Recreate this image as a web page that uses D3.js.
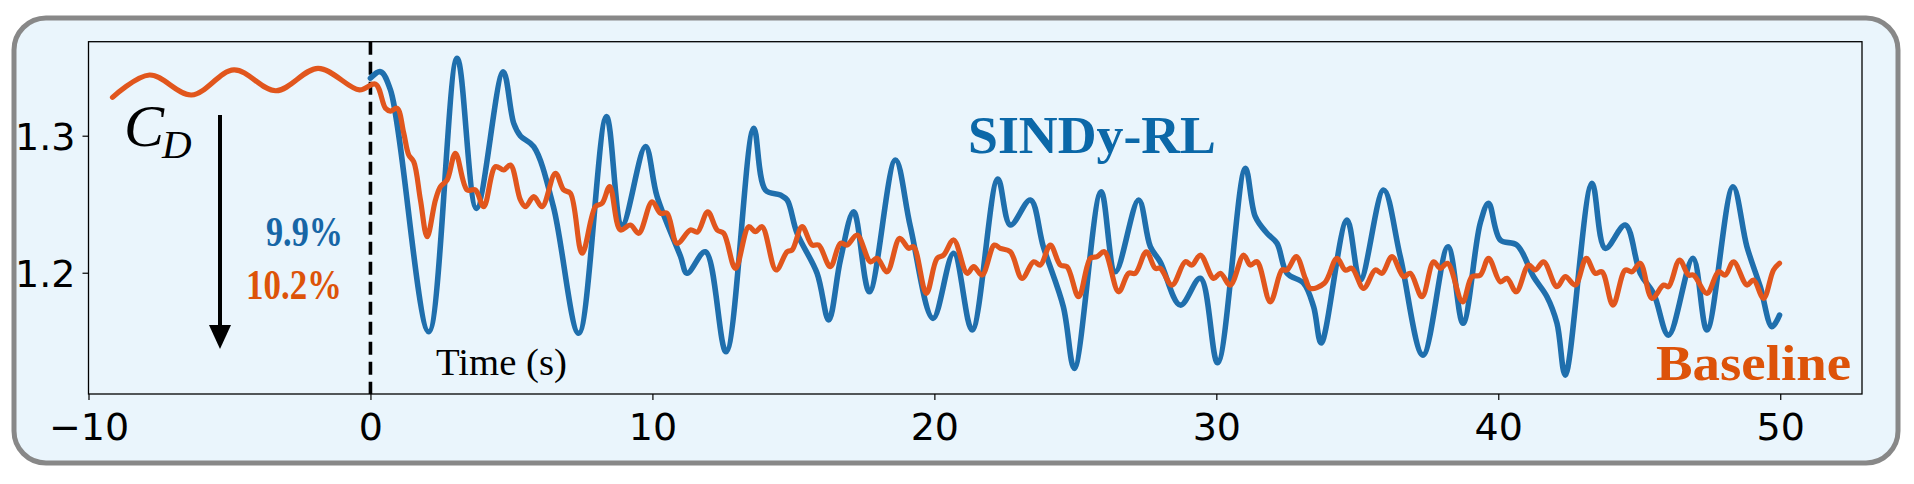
<!DOCTYPE html>
<html><head><meta charset="utf-8">
<script src="https://cdn.jsdelivr.net/npm/d3@7"></script>
<style>html,body{margin:0;padding:0;background:#fff;}svg{display:block;}</style>
</head><body>
<svg id="chart" width="1914" height="484"></svg>
<script>
// ---- data ----
const sindyT = [0,0.355,0.709,2.067,3.074,3.759,4.706,5.082,5.319,5.791,6.489,7.387,8.369,8.926,9.752,10.167,10.993,11.23,11.879,12.613,13.592,14.007,14.539,14.777,15.131,15.84,16.252,16.667,17.138,17.695,18.617,19.149,19.954,20.684,21.337,22.25,22.695,23.404,23.865,24.574,24.965,25.911,26.418,27.245,27.66,28.014,28.723,29.433,30.046,31.028,31.383,31.798,32.152,32.507,33.095,33.45,33.72,34.635,35.106,35.933,36.525,37.33,38.217,38.748,39.362,39.656,40.071,40.663,41.252,41.727,42.082,42.376,43.323,43.794,44.504,45.035,45.507,46.039,46.904,47.401,48.323,48.819,49.291,49.706,49.975];
const sindyCd = [1.342,1.3467,1.3334,1.1569,1.3565,1.247,1.3467,1.309,1.2998,1.292,1.2482,1.1558,1.3139,1.2348,1.292,1.2555,1.2122,1.1996,1.2153,1.1423,1.3054,1.2604,1.2567,1.2531,1.2288,1.1996,1.1655,1.2093,1.2445,1.1861,1.2823,1.2336,1.1667,1.2142,1.1582,1.2684,1.2348,1.2531,1.219,1.1752,1.1302,1.2591,1.2007,1.2531,1.219,1.2078,1.1764,1.1959,1.1343,1.2762,1.2409,1.2288,1.2215,1.1996,1.1923,1.1752,1.1487,1.2385,1.1947,1.2604,1.2117,1.1399,1.219,1.1631,1.2363,1.2507,1.2239,1.2202,1.1971,1.1825,1.1631,1.1253,1.2653,1.2178,1.2348,1.1996,1.185,1.1545,1.2105,1.1582,1.2628,1.219,1.1898,1.1606,1.1691];
const baseT = [-9.149,-7.837,-6.348,-4.84,-3.351,-1.858,-0.39,0.177,0.532,0.709,0.947,1.181,1.358,1.535,1.773,2.011,2.305,2.482,2.72,3.014,3.429,3.723,4.018,4.433,4.727,4.965,5.319,5.496,5.791,6.089,6.56,6.855,7.092,7.507,7.979,8.216,8.486,8.865,9.22,9.514,9.989,10.284,10.521,10.876,11.348,11.596,11.961,12.294,12.528,12.943,13.415,13.652,13.89,14.387,14.777,14.954,15.309,15.663,15.897,16.312,16.667,16.904,17.259,17.73,17.968,18.323,18.77,19.089,19.266,19.716,20.096,20.33,20.684,21.16,21.394,21.692,22.128,22.34,22.695,23.11,23.521,23.759,24.113,24.468,24.706,25.117,25.532,25.77,26.028,26.535,26.89,27.128,27.518,27.837,28.014,28.429,28.901,29.138,29.433,29.904,30.142,30.496,30.968,31.206,31.443,31.915,32.33,32.507,32.837,33.156,33.333,33.83,34.28,34.574,34.812,35.223,35.638,35.876,36.23,36.642,36.879,37.294,37.706,37.943,38.202,38.734,39.064,39.362,39.656,40.071,40.309,40.638,41.074,41.312,41.606,42.082,42.376,42.73,43.121,43.44,43.677,44.067,44.504,44.741,45.035,45.45,45.862,46.039,46.429,46.748,46.926,47.401,47.812,48.05,48.344,48.819,49.053,49.408,49.762,49.975];
const baseCd = [1.328,1.3443,1.3297,1.348,1.3328,1.3492,1.3334,1.3377,1.32,1.318,1.32,1.3018,1.2859,1.281,1.2531,1.2263,1.2531,1.2628,1.2677,1.2872,1.2604,1.2604,1.2482,1.2774,1.275,1.2786,1.2531,1.2482,1.2555,1.2482,1.2726,1.2604,1.258,1.2142,1.2482,1.2507,1.2628,1.2312,1.2348,1.2288,1.2518,1.2434,1.2434,1.2215,1.2312,1.2297,1.2445,1.2312,1.2288,1.2032,1.2336,1.2299,1.2336,1.202,1.2153,1.2166,1.2336,1.2202,1.2202,1.2044,1.2215,1.2202,1.2275,1.208,1.2105,1.2007,1.2251,1.2178,1.219,1.185,1.2105,1.2129,1.2239,1.1996,1.2044,1.1983,1.2202,1.2178,1.2153,1.1959,1.208,1.2056,1.2202,1.2056,1.2044,1.1825,1.2105,1.2117,1.2153,1.1861,1.1996,1.1996,1.2153,1.2032,1.2032,1.191,1.208,1.2056,1.2129,1.1959,1.1996,1.191,1.2129,1.2056,1.208,1.1788,1.202,1.202,1.2117,1.1959,1.1886,1.1923,1.2105,1.202,1.2032,1.1886,1.202,1.1996,1.2117,1.1971,1.1996,1.1825,1.208,1.2032,1.2069,1.1788,1.1971,1.1983,1.2105,1.1934,1.1959,1.1861,1.2056,1.202,1.208,1.1898,1.1971,1.191,1.2105,1.1996,1.2007,1.1764,1.202,1.2007,1.2069,1.1813,1.191,1.1898,1.2093,1.1983,1.1983,1.185,1.2007,1.1983,1.208,1.191,1.1947,1.1813,1.202,1.2069];
const xTicks = [-10, 0, 10, 20, 30, 40, 50];
const yTicks = [1.2, 1.3];
const xDomain = [-10, 52.9];
const yDomain = [1.1115, 1.3686];
const seriesLabels = ["SINDy-RL", "Baseline"];
const reductionLabels = ["9.9%", "10.2%"];
const axisLabel = "Time (s)";

// ---- layout ----
const svg = d3.select("#chart");
const plot = {left: 88.5, right: 1862, top: 41.7, bottom: 394};
const x = d3.scaleLinear().domain(xDomain).range([plot.left, plot.right]);
const y = d3.scaleLinear().domain(yDomain).range([plot.bottom, plot.top]);
const blue = "#1f6fad", orange = "#e1561d";

// outer rounded frame
svg.append("rect").attr("x", 14).attr("y", 18).attr("width", 1884).attr("height", 445)
  .attr("rx", 32).attr("ry", 32)
  .attr("fill", "#eaf5fc").attr("stroke", "#888888").attr("stroke-width", 5);

svg.append("defs").append("clipPath").attr("id", "clip")
  .append("rect").attr("x", plot.left).attr("y", plot.top)
  .attr("width", plot.right - plot.left).attr("height", plot.bottom - plot.top);

// axes
const tickFont = "'DejaVu Sans', sans-serif";
const xAxis = d3.axisBottom(x).tickValues(xTicks).tickSize(6).tickPadding(8)
  .tickFormat(d => d < 0 ? "\u2212" + Math.abs(d) : String(d));
const gx = svg.append("g").attr("transform", `translate(0,${plot.bottom})`).call(xAxis);
const yAxis = d3.axisLeft(y).tickValues(yTicks).tickSize(6).tickPadding(7).tickFormat(d3.format(".1f"));
const gy = svg.append("g").attr("transform", `translate(${plot.left},0)`).call(yAxis);
[gx, gy].forEach(g => {
  g.select(".domain").remove();
  g.selectAll(".tick line").attr("stroke", "#000").attr("stroke-width", 1.2);
  g.selectAll(".tick text").attr("fill", "#000").style("font-family", tickFont).style("font-size", "38px");
});
gx.selectAll(".tick text").attr("dy", "0.85em");
gy.selectAll(".tick text").attr("dy", "0.36em");

// frame of axes
svg.append("rect").attr("x", plot.left).attr("y", plot.top)
  .attr("width", plot.right - plot.left).attr("height", plot.bottom - plot.top)
  .attr("fill", "none").attr("stroke", "#000").attr("stroke-width", 1.3);

// dashed line at t = 0
svg.append("line").attr("x1", x(0)).attr("x2", x(0)).attr("y1", plot.top).attr("y2", plot.bottom)
  .attr("stroke", "#000").attr("stroke-width", 3.6).attr("stroke-dasharray", "13,7");

const line = d3.line().x(d => x(d[0])).y(d => y(d[1])).curve(d3.curveCatmullRom.alpha(0.5));
const sindy = sindyT.map((t, i) => [t, sindyCd[i]]);
const base = baseT.map((t, i) => [t, baseCd[i]]);
const lines = svg.append("g").attr("clip-path", "url(#clip)");
lines.append("path").attr("d", line(sindy)).attr("fill", "none").attr("stroke", blue)
  .attr("stroke-width", 5.6).attr("stroke-linejoin", "round").attr("stroke-linecap", "round");
lines.append("path").attr("d", line(base)).attr("fill", "none").attr("stroke", orange)
  .attr("stroke-width", 5.2).attr("stroke-linejoin", "round").attr("stroke-linecap", "round");

// annotations
const serif = "'Liberation Serif', 'DejaVu Serif', serif";
svg.append("text").attr("x", 1216).attr("y", 153).attr("text-anchor", "end")
  .style("font-family", serif).style("font-weight", "bold").style("font-size", "52px")
  .attr("fill", "#0b68a8").attr("textLength", 248).attr("lengthAdjust", "spacingAndGlyphs").text(seriesLabels[0]);
svg.append("text").attr("x", 1851).attr("y", 380).attr("text-anchor", "end")
  .style("font-family", serif).style("font-weight", "bold").style("font-size", "50px")
  .attr("fill", "#dd5309").attr("textLength", 195).attr("lengthAdjust", "spacingAndGlyphs").text(seriesLabels[1]);
svg.append("text").attr("x", 343).attr("y", 246).attr("text-anchor", "end")
  .style("font-family", serif).style("font-weight", "bold").style("font-size", "42px")
  .attr("fill", "#1766a6").attr("textLength", 77).attr("lengthAdjust", "spacingAndGlyphs").text(reductionLabels[0]);
svg.append("text").attr("x", 342).attr("y", 299).attr("text-anchor", "end")
  .style("font-family", serif).style("font-weight", "bold").style("font-size", "42px")
  .attr("fill", "#dd5309").attr("textLength", 96).attr("lengthAdjust", "spacingAndGlyphs").text(reductionLabels[1]);
svg.append("text").attr("x", 436).attr("y", 375)
  .style("font-family", serif).style("font-size", "37px").attr("fill", "#000")
  .attr("textLength", 131).attr("lengthAdjust", "spacingAndGlyphs").text(axisLabel);

// C_D label (C and subscript D as separate texts)
svg.append("text").attr("x", 124).attr("y", 146)
  .style("font-family", serif).style("font-style", "italic").style("font-size", "60px")
  .attr("fill", "#000").text("C");
svg.append("text").attr("x", 162).attr("y", 158)
  .style("font-family", serif).style("font-style", "italic").style("font-size", "41px")
  .attr("fill", "#000").text("D");

// downward arrow
svg.append("line").attr("x1", 220).attr("x2", 220).attr("y1", 115).attr("y2", 330)
  .attr("stroke", "#000").attr("stroke-width", 4);
svg.append("path").attr("d", "M209,325 L231,325 L220,349 Z").attr("fill", "#000");
</script>
</body></html>
